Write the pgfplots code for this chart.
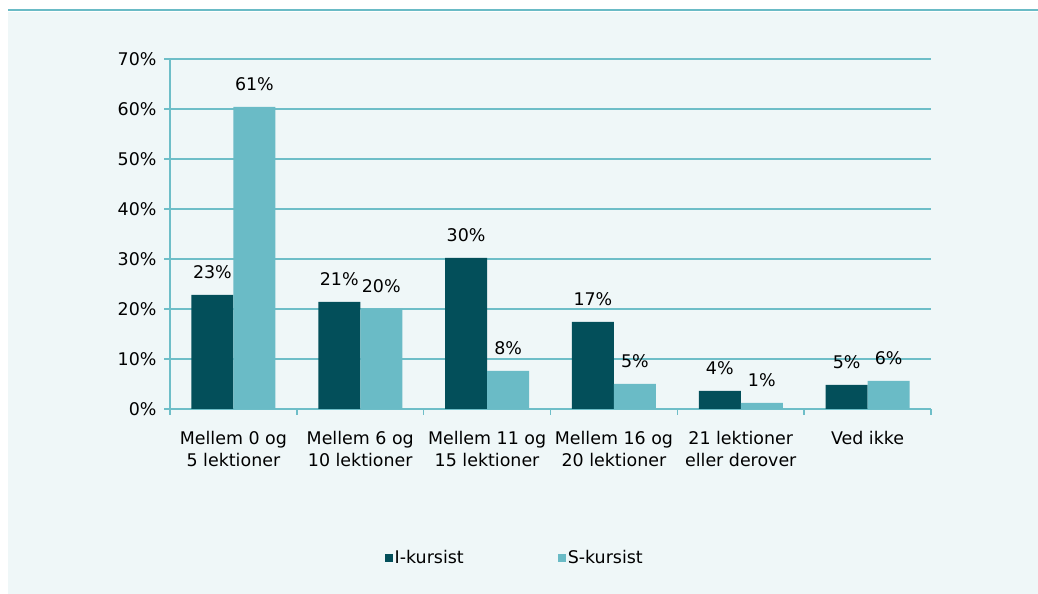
\documentclass[border=0pt]{standalone}
\usepackage{pgfplots}
\pgfplotsset{compat=1.18}
\usepackage{fontspec}
\setmainfont{DejaVu Sans}
\definecolor{dark}{RGB}{3,79,90}
\definecolor{light}{RGB}{106,187,198}
\definecolor{bg}{RGB}{239,247,248}
\definecolor{gridc}{RGB}{110,190,200}
\newcommand{\fs}{\fontsize{17.5}{22}\selectfont}
\begin{document}
\begin{tikzpicture}[x=1bp,y=1bp]
\useasboundingbox (0,0) rectangle (1038,594);
\fill[bg] (8,0) rectangle (1038,582);
\fill[light] (8,582.5) rectangle (1038,585);
\begin{axis}[
  at={(170bp,185bp)}, anchor=south west,
  scale only axis, width=761bp, height=350bp,
  ybar=0pt, bar width=42bp,
  xmin=-0.5, xmax=5.5, ymin=0, ymax=70,
  ytick={0,10,...,70},
  /pgf/number format/assume math mode=true,
  yticklabel={\pgfmathprintnumber{\tick}\%},
  yticklabel style={xshift=-4bp},
  xtick={-0.5,0.5,...,5.5}, xticklabels={},
  extra x ticks={0,1,2,3,4,5},
  extra x tick labels={{Mellem 0 og\\5 lektioner},{Mellem 6 og\\10 lektioner},{Mellem 11 og\\15 lektioner},{Mellem 16 og\\20 lektioner},{21 lektioner\\eller derover},{Ved ikke}},
  extra x tick style={major tick length=0pt, xticklabel style={align=center, yshift=-19bp}},
  axis x line*=bottom, axis y line*=left,
  axis line style={gridc, line width=1.5bp},
  ymajorgrids, grid style={gridc, line width=1.5bp},
  tick style={gridc, line width=1.5bp},
  major tick length=6bp, tick align=outside,
  tick label style={font=\fs, text=black},
  nodes near coords={\pgfplotspointmeta\%},
  point meta=explicit symbolic,
  every node near coord/.append style={font=\fs, text=black, yshift=13bp},
  legend style={at={(0.453,-0.426)}, anchor=center, draw=none, fill=none,
    font=\fs, legend columns=2,
    /tikz/every even column/.append style={column sep=92bp}},
  mylegend/.style={legend image code/.code={\fill[##1] (0bp,-4bp) rectangle (8bp,4bp);}},
]
\addplot[fill=dark, draw=none, mylegend] coordinates {(0,22.8)[23] (1,21.4)[21] (2,30.2)[30] (3,17.4)[17] (4,3.6)[4] (5,4.8)[5]};
\addplot[fill=light, draw=none, mylegend] coordinates {(0,60.4)[61] (1,20.0)[20] (2,7.6)[8] (3,5.0)[5] (4,1.2)[1] (5,5.6)[6]};
\legend{I-kursist, S-kursist}
\end{axis}
\end{tikzpicture}
\end{document}
